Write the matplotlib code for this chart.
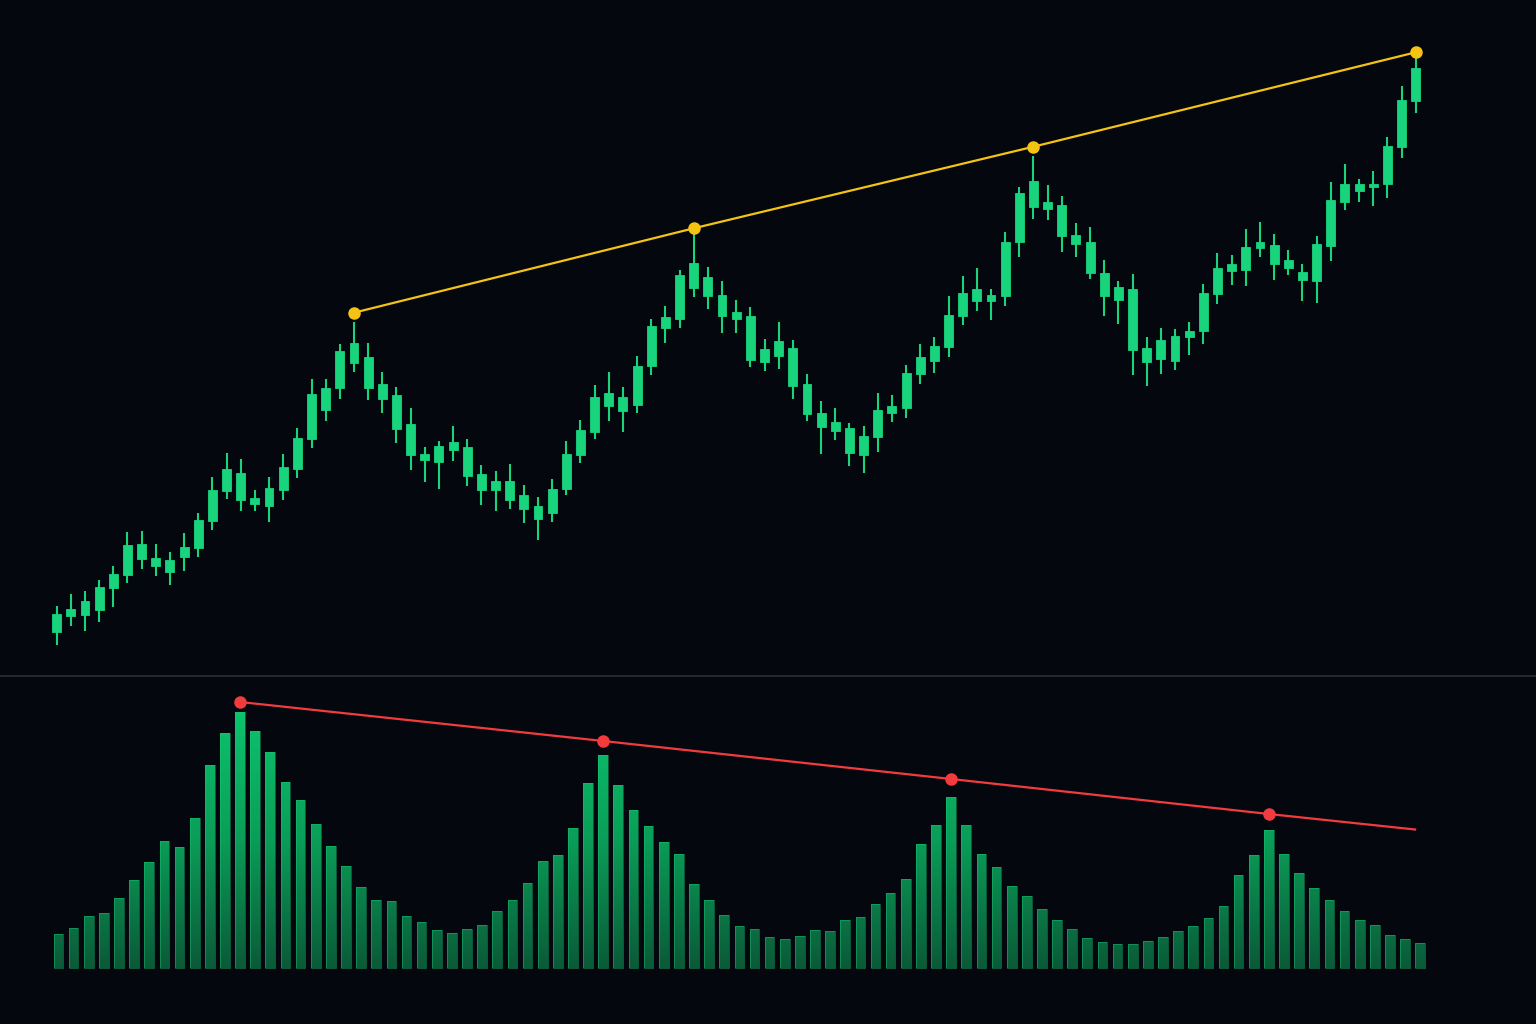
import numpy as np
import matplotlib
matplotlib.use('Agg')
import matplotlib.pyplot as plt
from matplotlib.path import Path
from matplotlib.lines import Line2D
from matplotlib.colors import LinearSegmentedColormap

# candle data (all bullish: open = body bottom, close = body top)
opens = [36.8, 38.43, 38.53, 39.03, 41.23, 42.47, 44.13, 43.4, 42.77, 44.33,
         45.23, 47.93, 50.93, 50.03, 49.63, 49.43, 51.03, 53.13, 56.13, 59.0,
         61.2, 63.73, 61.2, 60.07, 57.1, 54.53, 53.97, 53.83, 55.0, 52.43,
         51.03, 51.03, 50.03, 49.13, 48.13, 48.7, 51.13, 54.5, 56.83, 59.4,
         58.9, 59.5, 63.37, 67.23, 68.13, 71.2, 70.37, 68.43, 68.13, 64.03,
         63.77, 64.43, 61.37, 58.63, 57.3, 56.93, 54.73, 54.5, 56.27, 58.7,
         59.2, 62.63, 63.93, 65.3, 68.43, 69.87, 69.87, 70.43, 75.8, 79.3,
         79.07, 76.4, 75.57, 72.7, 70.4, 70.03, 65.0, 63.77, 64.1, 63.93,
         66.27, 66.9, 70.6, 72.93, 72.97, 75.17, 73.63, 73.17, 71.97, 71.93,
         75.43, 79.83, 80.9, 81.33, 81.6, 85.33, 89.93]
closes = [38.6, 39.1, 39.87, 41.33, 42.6, 45.5, 45.57, 44.2, 44.0, 45.33,
          48.0, 50.97, 53.1, 52.7, 50.17, 51.17, 53.33, 56.23, 60.6, 61.17,
          64.9, 65.67, 64.3, 61.6, 60.47, 57.57, 54.6, 55.4, 55.8, 55.3,
          52.6, 51.93, 51.93, 50.47, 49.43, 51.13, 54.6, 57.0, 60.27, 60.73,
          60.3, 63.4, 67.37, 68.3, 72.53, 73.7, 72.33, 70.53, 68.8, 68.43,
          65.13, 65.93, 65.17, 61.6, 58.73, 57.8, 57.17, 56.4, 58.97, 59.4,
          62.7, 64.3, 65.4, 68.47, 70.67, 71.1, 70.5, 75.83, 80.73, 81.9,
          79.8, 79.47, 76.5, 75.8, 72.73, 71.27, 71.07, 65.2, 66.0, 66.37,
          66.9, 70.7, 73.2, 73.63, 75.27, 75.77, 75.5, 74.0, 72.8, 75.6,
          80.0, 81.6, 81.57, 81.6, 85.4, 90.0, 93.2]
highs = [39.4, 40.6, 40.9, 41.97, 43.43, 46.8, 46.9, 45.6, 44.8, 46.67,
         48.7, 52.3, 54.7, 54.1, 51.0, 52.27, 54.6, 57.17, 62.1, 62.07,
         65.57, 67.83, 65.73, 62.83, 61.27, 59.2, 55.3, 55.93, 57.43, 56.13,
         53.47, 52.87, 53.6, 51.5, 50.27, 52.07, 55.93, 58.0, 61.53, 62.83,
         61.27, 64.4, 68.1, 69.37, 73.0, 76.67, 73.27, 71.87, 70.0, 69.3,
         66.07, 67.8, 65.97, 62.57, 59.87, 59.2, 57.73, 57.37, 60.7, 60.47,
         63.47, 65.63, 66.33, 70.37, 72.4, 73.23, 71.1, 76.77, 81.27, 84.43,
         81.5, 80.4, 77.7, 77.27, 74.0, 71.93, 72.6, 66.33, 67.17, 67.1,
         67.77, 71.6, 74.73, 74.53, 77.1, 77.8, 76.57, 74.97, 73.6, 76.43,
         81.77, 83.6, 82.1, 82.87, 86.3, 91.43, 94.17]
lows = [35.5, 37.43, 36.9, 37.77, 39.27, 41.67, 43.1, 42.43, 41.53, 42.93,
        44.27, 47.0, 50.13, 48.93, 48.93, 47.77, 49.97, 52.23, 55.23, 57.9,
        60.13, 62.83, 59.97, 58.67, 55.67, 53.03, 51.83, 51.1, 53.87, 51.43,
        49.47, 48.87, 49.1, 47.73, 46.0, 47.8, 50.47, 53.67, 56.07, 57.93,
        56.83, 58.67, 62.47, 65.73, 67.23, 70.33, 69.1, 66.7, 66.7, 63.27,
        62.9, 63.13, 60.13, 57.93, 54.6, 56.0, 53.43, 52.67, 54.77, 57.77,
        58.23, 61.57, 62.73, 64.33, 67.5, 68.93, 68.03, 69.4, 74.33, 78.07,
        78.03, 74.8, 74.3, 72.07, 68.43, 67.6, 62.53, 61.4, 62.63, 62.97,
        64.5, 65.6, 69.57, 71.5, 71.4, 74.33, 72.0, 72.47, 69.93, 69.7,
        73.9, 79.0, 79.77, 79.43, 80.2, 84.2, 88.73]

volumes = [340, 400, 520, 550, 700, 880, 1060, 1270, 1210, 1500,
           2030, 2350, 2560, 2370, 2160, 1860, 1680, 1440, 1220, 1020,
           810, 680, 670, 520, 460, 380, 350, 390, 430, 570,
           680, 850, 1070, 1130, 1400, 1850, 2130, 1830, 1580, 1420,
           1260, 1140, 840, 680, 530, 420, 390, 310, 290, 320,
           380, 370, 480, 510, 640, 750, 890, 1240, 1430, 1710,
           1430, 1140, 1010, 820, 720, 590, 480, 390, 300, 260,
           240, 240, 270, 310, 370, 420, 500, 620, 930, 1130,
           1380, 1140, 950, 800, 680, 570, 480, 430, 330, 290, 250]

# price highs trendline (yellow) and volume peaks trendline (red)
price_peak_idx = [21, 45, 69, 96]
price_peak_val = [68.73, 77.17, 85.33, 94.77]
vol_peak_idx = [12, 36, 59, 80]
vol_peak_val = [2660, 2270, 1890, 1540]
vol_line_end = (89.66, 1385)

bg = '#04070e'
candle_col = '#18d47c'
yellow = '#f5c313'
red = '#f23b3f'

fig = plt.figure(figsize=(15.36, 10.24), dpi=100, facecolor=bg)

# price pane
ax = fig.add_axes([0, 348 / 1024, 1, 676 / 1024])
ax.set_facecolor(bg)
x = np.arange(len(opens))
o = np.array(opens)
c = np.array(closes)
ax.vlines(x, lows, highs, color=candle_col, lw=1.5, zorder=2)
ax.bar(x, c - o, bottom=o, width=0.63, color=candle_col, edgecolor=candle_col,
       lw=0.6, zorder=3)
ax.plot(price_peak_idx, price_peak_val, color=yellow, lw=1.6, zorder=4)
ax.plot(price_peak_idx, price_peak_val, 'o', color=yellow, ms=8, zorder=5)
ax.set_xlim(-56.7 / 14.156, (1536 - 56.7) / 14.156)
ax.set_ylim(32.4, 100)
ax.axis('off')

# volume pane
axv = fig.add_axes([0, 0, 1, 348 / 1024])
axv.set_facecolor(bg)
xv = np.arange(len(volumes))
bars = axv.bar(xv, volumes, width=0.64, color='none', edgecolor='#19c878',
               lw=0.6, alpha=0.5, zorder=3)
axv.set_xlim(-58.5 / 15.13, (1536 - 58.5) / 15.13)
axv.set_ylim(-560, 2920)

# vertical gradient fill clipped to the bars
paths = [b.get_path().transformed(b.get_patch_transform()) for b in bars]
clip = Path.make_compound_path(*paths)
cmap = LinearSegmentedColormap.from_list('vg', ['#0b5a38', '#0a9e58', '#0cc46e'])
grad = np.linspace(0, 1, 256).reshape(-1, 1)
im = axv.imshow(grad, cmap=cmap, origin='lower', aspect='auto',
                extent=[-2, 95, 0, 2600], zorder=2)
im.set_clip_path(clip, axv.transData)

lx = vol_peak_idx + [vol_line_end[0]]
ly = vol_peak_val + [vol_line_end[1]]
axv.plot(lx, ly, color=red, lw=1.6, zorder=4)
axv.plot(vol_peak_idx, vol_peak_val, 'o', color=red, ms=8, zorder=5)
axv.axis('off')

# separator between panes
fig.add_artist(Line2D([0, 1], [348 / 1024, 348 / 1024], color='#2a2e38',
                      lw=1.2, transform=fig.transFigure))

fig.savefig('out.png', dpi=100, facecolor=bg)
